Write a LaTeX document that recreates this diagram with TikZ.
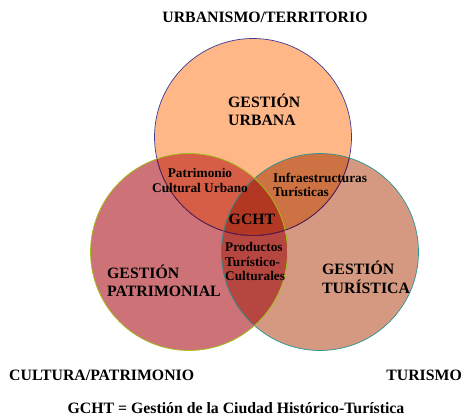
\documentclass[tikz,border=0pt]{standalone}
\usepackage{fontspec}
\setmainfont{Liberation Serif}
\definecolor{urbfill}{RGB}{255,183,135}
\definecolor{patfill}{RGB}{205,115,120}
\definecolor{turfill}{RGB}{213,152,128}
\definecolor{urbpat}{RGB}{214,94,70}
\definecolor{urbtur}{RGB}{205,114,66}
\definecolor{pattur}{RGB}{182,70,64}
\definecolor{allthree}{RGB}{178,56,36}
\definecolor{urbline}{RGB}{60,60,150}
\definecolor{patline}{RGB}{160,200,20}
\definecolor{turline}{RGB}{40,150,150}
\tikzset{
  bigtxt/.style={font=\bfseries\fontsize{15.8}{18.5}\selectfont, inner sep=0pt, align=left},
  smalltxt/.style={font=\bfseries\fontsize{13.3}{14.5}\selectfont, inner sep=0pt},
  rim/.style={line width=0.7pt}
}
\begin{document}
\begin{tikzpicture}[x=1pt,y=-1pt]
  \useasboundingbox (0,0) rectangle (463,416);
  % centres of the three circles
  \coordinate (urb) at (253,137);
  \coordinate (pat) at (189,252);
  \coordinate (tur) at (320,252);
  \def\rad{98.5pt}

  % single areas
  \fill[urbfill] (urb) circle[radius=\rad];
  \fill[patfill] (pat) circle[radius=\rad];
  \fill[turfill] (tur) circle[radius=\rad];
  % overlaps
  \begin{scope}
    \clip (urb) circle[radius=\rad];
    \fill[urbpat] (pat) circle[radius=\rad];
    \fill[urbtur] (tur) circle[radius=\rad];
  \end{scope}
  \begin{scope}
    \clip (pat) circle[radius=\rad];
    \fill[pattur] (tur) circle[radius=\rad];
  \end{scope}
  \begin{scope}
    \clip (urb) circle[radius=\rad];
    \clip (pat) circle[radius=\rad];
    \fill[allthree] (tur) circle[radius=\rad];
  \end{scope}

  % outlines
  \draw[rim,urbline] (urb) circle[radius=\rad];
  \begin{scope}
    \clip (pat) circle[radius=\rad];
    \draw[rim,urbline!60!red!70!black] (urb) circle[radius=\rad];
  \end{scope}
  \begin{scope}
    \clip (tur) circle[radius=\rad];
    \draw[rim,urbline!60!red!70!black] (urb) circle[radius=\rad];
  \end{scope}
  \draw[rim,turline] (tur) circle[radius=\rad];
  \begin{scope}
    \clip (pat) circle[radius=\rad];
    \draw[rim,turline!40!black!70] (tur) circle[radius=\rad];
  \end{scope}
  \draw[rim,patline] (pat) circle[radius=\rad];

  % texts inside the circles (base = last line)
  \node[bigtxt,anchor=base west] (gurbana) at (228,125.7) {GESTIÓN\\URBANA};
  \node[bigtxt,anchor=base west] (gpatri) at (107,296.7) {GESTIÓN\\PATRIMONIAL};
  \node[bigtxt,anchor=base west] (gturis) at (322,293.3) {GESTIÓN\\TURÍSTICA};
  \node[bigtxt,anchor=base] (gcht) at (252,224) {GCHT};
  \node[smalltxt,align=center,anchor=base] (patcult) at (200,192) {Patrimonio\\Cultural Urbano};
  \node[smalltxt,align=left,anchor=base west] (infra) at (273,196.7) {Infraestructuras\\Turísticas};
  \node[smalltxt,align=left,anchor=base west] (productos) at (225,280.7) {Productos\\Turístico-\\Culturales};

  % outer labels
  \node[bigtxt,anchor=base] (urbanismo) at (265,22) {URBANISMO/TERRITORIO};
  \node[bigtxt,anchor=base west] (cultura) at (9,380.7) {CULTURA/PATRIMONIO};
  \node[bigtxt,anchor=base east] (turismo) at (462,380.7) {TURISMO};
  \node[bigtxt,anchor=base] (leyenda) at (236,413) {GCHT = Gestión de la Ciudad Histórico-Turística};
\end{tikzpicture}
\end{document}
